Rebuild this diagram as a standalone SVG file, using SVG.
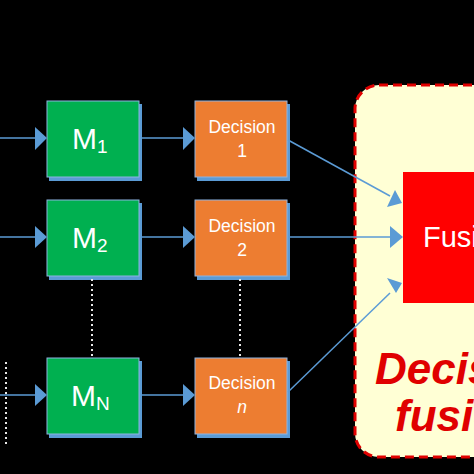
<svg xmlns="http://www.w3.org/2000/svg" width="474" height="474" viewBox="0 0 474 474">
<defs>
<style>
.sh{fill:#5B9BD5}
.g{fill:#00B050;stroke:#8DB4E2;stroke-width:1}
.o{fill:#ED7D31;stroke:#8DB4E2;stroke-width:1}
.ln{stroke:#5B9BD5;stroke-width:1.5;fill:none}
.ah{fill:#5B9BD5}
.mt{font-family:"Liberation Sans",Arial,sans-serif;fill:#fff;font-size:30px}
.ms{font-size:19px}
.dt{font-family:"Liberation Sans",Arial,sans-serif;fill:#fff;font-size:17.5px;text-anchor:middle}
.dot{stroke:#E8E8E8;stroke-width:2;stroke-dasharray:2 3;fill:none}
.big{font-family:"Liberation Sans",Arial,sans-serif;font-size:44px;font-weight:bold;font-style:italic;fill:#E00000}
</style>
</defs>
<rect width="474" height="474" fill="#000"/>
<g id="fusion-region">
<rect x="355" y="85" width="160" height="372" rx="24" fill="#FFFFD5" stroke="#E00000" stroke-width="3" stroke-dasharray="9 5"/>
<text class="big" x="375" y="384">Decision</text>
<text class="big" x="395" y="431">fusion</text>
</g>
<g id="fusion">
<rect x="403" y="172" width="90" height="131" fill="#FF0000"/>
<text x="423" y="247" font-family="'Liberation Sans',Arial,sans-serif" font-size="29" fill="#fff">Fusion</text>
</g>
<g id="m1">
<rect class="sh" x="49" y="104" width="93" height="77"/>
<rect class="g" x="47" y="101" width="92" height="76"/>
<text class="mt" x="72" y="149">M<tspan class="ms" dy="4">1</tspan></text>
</g>
<g id="m2">
<rect class="sh" x="49" y="203" width="93" height="77"/>
<rect class="g" x="47" y="200" width="92" height="76"/>
<text class="mt" x="72" y="248">M<tspan class="ms" dy="4">2</tspan></text>
</g>
<g id="mn">
<rect class="sh" x="49" y="361" width="93" height="77"/>
<rect class="g" x="47" y="358" width="92" height="76"/>
<text class="mt" x="71" y="406">M<tspan class="ms" dy="4">N</tspan></text>
</g>
<g id="d1">
<rect class="sh" x="197" y="104" width="93" height="77"/>
<rect class="o" x="195" y="101" width="92" height="76"/>
<text class="dt" x="242" y="133">Decision</text>
<text class="dt" x="242" y="157">1</text>
</g>
<g id="d2">
<rect class="sh" x="197" y="203" width="93" height="77"/>
<rect class="o" x="195" y="200" width="92" height="76"/>
<text class="dt" x="242" y="232">Decision</text>
<text class="dt" x="242" y="256">2</text>
</g>
<g id="dn">
<rect class="sh" x="197" y="361" width="93" height="77"/>
<rect class="o" x="195" y="358" width="92" height="76"/>
<text class="dt" x="242" y="389">Decision</text>
<text class="dt" x="242" y="413" font-style="italic">n</text>
</g>
<g id="connectors">
<line class="ln" x1="0" y1="138" x2="36" y2="138"/>
<polygon class="ah" points="35,127 47,138 35,150"/>
<line class="ln" x1="0" y1="237" x2="36" y2="237"/>
<polygon class="ah" points="35,226 47,237 35,248"/>
<line class="ln" x1="0" y1="395" x2="36" y2="395"/>
<polygon class="ah" points="35,384 47,395 35,406"/>
<line class="ln" x1="140" y1="138" x2="184" y2="138"/>
<polygon class="ah" points="183,127 195,138 183,150"/>
<line class="ln" x1="140" y1="237" x2="184" y2="237"/>
<polygon class="ah" points="183,226 195,237 183,248"/>
<line class="ln" x1="140" y1="395" x2="184" y2="395"/>
<polygon class="ah" points="183,384 195,395 183,406"/>
<line class="ln" x1="288" y1="140" x2="390" y2="196"/>
<polygon class="ah" points="402,203 387,207 395,190"/>
<line class="ln" x1="288" y1="237" x2="390" y2="237"/>
<polygon class="ah" points="403,237 390,226 390,248"/>
<line class="ln" x1="288" y1="392" x2="390" y2="293"/>
<polygon class="ah" points="402,283 387,278 396,293"/>
<line class="dot" x1="92" y1="279" x2="92" y2="357"/>
<line class="dot" x1="240" y1="279" x2="240" y2="357"/>
<line class="dot" x1="6" y1="362" x2="6" y2="446"/>
</g>
</svg>
